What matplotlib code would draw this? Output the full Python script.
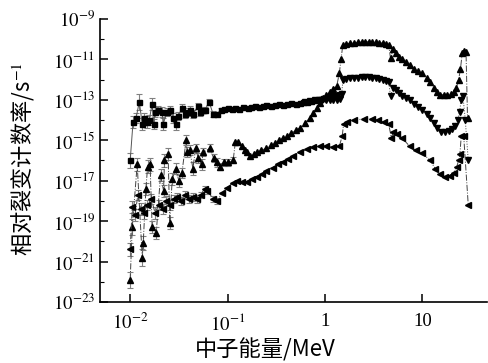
import matplotlib as mpl
import matplotlib.pyplot as plt
import numpy as np
from matplotlib.ticker import FixedLocator, FixedFormatter, NullFormatter

mpl.rcParams.update({
    "font.family": "serif",
    "font.serif": ["Liberation Serif", "DejaVu Serif"],
    "mathtext.fontset": "stix",
    "font.size": 13,
})

# 方块：能量 (MeV)、计数率 (s^-1)、误差 (数量级)
sq_e = [0.0100, 0.0107, 0.0115, 0.0124, 0.0133, 0.0139, 0.0149, 0.0157, 0.0168, 0.0174,
        0.0180, 0.0194, 0.0213, 0.0218, 0.0239, 0.0257, 0.0276, 0.0296, 0.0310, 0.0341,
        0.0366, 0.0390, 0.0412, 0.0442, 0.0498, 0.0521, 0.0560, 0.0587, 0.0645, 0.0709,
        0.0780, 0.0850, 0.092, 0.100, 0.110, 0.120, 0.132, 0.145, 0.160, 0.175,
        0.190, 0.210, 0.230, 0.250, 0.280, 0.310, 0.340, 0.370, 0.410, 0.450,
        0.500, 0.550, 0.600, 0.660, 0.720, 0.800, 0.880, 0.960, 1.05, 1.15,
        1.25, 1.38]
sq_v = [1.00e-16, 7.94e-15, 1.26e-14, 7.94e-14, 6.31e-15, 1.26e-14, 7.94e-15, 1.00e-14, 6.31e-14, 6.31e-15,
        2.51e-14, 3.16e-14, 2.51e-14, 6.31e-15, 2.51e-14, 3.16e-14, 1.26e-14, 6.31e-15, 1.58e-14, 3.98e-14,
        2.00e-14, 2.51e-14, 3.16e-14, 2.00e-14, 5.01e-14, 2.51e-14, 3.16e-14, 3.16e-14, 7.94e-14, 2.00e-14,
        2.00e-14, 3.16e-14, 3.55e-14, 3.98e-14, 3.55e-14, 3.98e-14, 3.55e-14, 4.47e-14, 3.98e-14, 4.47e-14,
        5.01e-14, 4.47e-14, 5.01e-14, 5.62e-14, 5.01e-14, 5.62e-14, 6.31e-14, 5.62e-14, 6.31e-14, 7.08e-14,
        6.31e-14, 7.08e-14, 7.94e-14, 7.94e-14, 8.91e-14, 1.00e-13, 1.12e-13, 1.26e-13, 1.41e-13, 1.58e-13,
        1.78e-13, 2.00e-13]
sq_err = [0.35, 0.3, 0.25, 0.4, 0.3, 0.25, 0.3, 0.25, 0.3, 0.25,
          0.25, 0.2, 0.25, 0.3, 0.2, 0.2, 0.25, 0.3, 0.2, 0.2,
          0.2, 0.2, 0.2, 0.2, 0.15, 0.2, 0.15, 0.15, 0.15, 0.15,
          0.1, 0.1]

# 正三角
up_e = [0.0100, 0.0105, 0.0118, 0.0133, 0.0136, 0.0145, 0.0151, 0.0160, 0.0168, 0.0185,
        0.0205, 0.0220, 0.0225, 0.0245, 0.0255, 0.0270, 0.0296, 0.0315, 0.0340, 0.0375,
        0.0385, 0.0410, 0.0440, 0.0470, 0.0500, 0.0540, 0.0560, 0.0660, 0.0720, 0.0780,
        0.0840, 0.0920, 0.100, 0.114, 0.120, 0.128, 0.140, 0.150, 0.158, 0.170,
        0.185, 0.200, 0.220, 0.250, 0.280, 0.310, 0.340, 0.370, 0.410, 0.450,
        0.500, 0.550, 0.620, 0.700, 0.760, 0.820, 0.880, 0.950, 1.03, 1.12,
        1.22, 1.32, 1.40, 1.46, 1.52, 1.65, 1.80, 2.00, 2.20, 2.40,
        2.60, 2.80, 3.00, 3.30, 3.60, 3.90, 4.20, 4.50, 4.70, 5.00,
        5.30, 5.70, 6.20, 6.70, 7.40, 8.20, 9.00, 10.0, 11.0, 12.0,
        13.0, 14.0, 15.0, 16.5, 18.0, 19.5, 21.0, 22.3, 23.5, 24.5,
        25.6, 27.0, 28.0, 29.0]
up_v = [1.26e-22, 5.01e-20, 6.31e-17, 1.58e-21, 7.94e-21, 3.98e-18, 5.01e-17, 6.31e-17, 5.01e-20, 2.51e-20,
        2.00e-17, 3.16e-18, 1.00e-16, 2.00e-16, 7.94e-20, 1.26e-17, 3.98e-17, 1.00e-17, 2.51e-17, 1.00e-15,
        2.51e-16, 3.16e-16, 3.98e-17, 3.98e-16, 1.26e-16, 6.31e-17, 2.51e-16, 3.98e-16, 1.26e-16, 7.94e-17,
        5.01e-17, 7.94e-17, 7.94e-17, 1.00e-16, 7.94e-16, 7.94e-16, 5.01e-16, 3.16e-16, 2.51e-16, 1.58e-16,
        2.00e-16, 2.51e-16, 3.16e-16, 3.98e-16, 5.62e-16, 7.08e-16, 1.00e-15, 1.26e-15, 1.58e-15, 2.24e-15,
        3.16e-15, 3.98e-15, 7.08e-15, 1.26e-14, 2.24e-14, 3.98e-14, 7.08e-14, 1.26e-13, 1.78e-13, 2.51e-13,
        3.55e-13, 5.01e-13, 2.00e-12, 1.00e-11, 5.01e-11, 5.62e-11, 6.31e-11, 6.61e-11, 7.08e-11, 7.08e-11,
        7.41e-11, 7.41e-11, 7.24e-11, 7.08e-11, 6.61e-11, 6.31e-11, 5.62e-11, 5.01e-11, 1.12e-11, 3.16e-11,
        2.00e-11, 1.26e-11, 1.00e-11, 7.08e-12, 5.01e-12, 3.16e-12, 2.51e-12, 2.00e-12, 1.26e-12, 7.94e-13,
        3.98e-13, 2.51e-13, 1.78e-13, 1.78e-13, 1.78e-13, 2.00e-13, 2.51e-13, 3.98e-13, 1.00e-12, 3.16e-12,
        2.00e-11, 2.51e-11, 2.24e-11, 1.26e-14]
up_err = [0.4, 0.4, 0.3, 0.4, 0.35, 0.3, 0.3, 0.3, 0.3, 0.3,
          0.3, 0.3, 0.3, 0.3, 0.3, 0.3, 0.25, 0.3, 0.25, 0.25,
          0.25, 0.25, 0.3, 0.2, 0.25, 0.25, 0.2, 0.2, 0.2, 0.2,
          0.15, 0.15, 0.15, 0.15]

# 倒三角
dn_e = [0.62, 0.70, 0.78, 0.86, 0.94, 1.03, 1.12, 1.22, 1.32, 1.42,
        1.48, 1.53, 1.65, 1.80, 2.00, 2.20, 2.40, 2.60, 2.80, 3.00,
        3.30, 3.60, 3.90, 4.20, 4.50, 4.70, 5.00, 5.30, 5.70, 6.20,
        6.80, 7.40, 8.20, 9.00, 10.0, 11.0, 12.0, 13.0, 14.0, 15.5,
        17.0, 18.5, 20.0, 21.5, 23.0, 24.0, 25.0, 26.0, 27.5, 29.5]
dn_v = [7.94e-14, 8.91e-14, 1.00e-13, 1.00e-13, 1.00e-13, 1.00e-13, 1.00e-13, 1.00e-13, 1.00e-13, 1.12e-13,
        2.00e-13, 1.00e-12, 1.12e-12, 1.20e-12, 1.26e-12, 1.26e-12, 1.32e-12, 1.32e-12, 1.32e-12, 1.26e-12,
        1.20e-12, 1.12e-12, 1.00e-12, 8.91e-13, 7.94e-13, 1.58e-13, 3.98e-13, 3.16e-13, 2.24e-13, 1.58e-13,
        1.26e-13, 1.00e-13, 6.31e-14, 4.47e-14, 3.16e-14, 2.00e-14, 1.26e-14, 7.08e-15, 3.98e-15, 2.51e-15,
        2.51e-15, 2.82e-15, 3.55e-15, 5.01e-15, 1.00e-14, 2.51e-14, 1.00e-13, 1.58e-13, 1.00e-14, 1.00e-16]

# 左三角
lf_e = [0.0100, 0.0105, 0.0112, 0.0120, 0.0128, 0.0138, 0.0150, 0.0165, 0.0180, 0.0196,
        0.0215, 0.0235, 0.0255, 0.0280, 0.0305, 0.0335, 0.0365, 0.0400, 0.0440, 0.0480,
        0.0530, 0.0580, 0.0620, 0.0710, 0.0780, 0.0880, 0.098, 0.114, 0.125, 0.140,
        0.158, 0.180, 0.200, 0.225, 0.250, 0.290, 0.330, 0.370, 0.420, 0.470,
        0.550, 0.650, 0.750, 0.880, 1.03, 1.20, 1.40, 1.50, 1.55, 1.70,
        2.00, 2.50, 3.00, 3.50, 4.00, 4.50, 4.80, 5.00, 5.50, 6.20,
        7.40, 8.50, 10.0, 12.0, 13.5, 15.0, 17.0, 19.0, 21.0, 22.5,
        23.5, 24.2, 25.0, 26.5, 29.5]
lf_v = [3.98e-21, 5.01e-19, 2.00e-19, 2.00e-18, 3.98e-19, 2.51e-19, 6.31e-19, 1.26e-18, 2.51e-19, 6.31e-19,
        3.98e-19, 1.00e-18, 6.31e-19, 1.26e-18, 1.58e-18, 1.00e-18, 2.00e-18, 1.26e-18, 1.58e-18, 1.26e-18,
        2.00e-18, 3.98e-18, 3.16e-18, 1.26e-18, 1.00e-18, 2.51e-18, 4.47e-18, 7.94e-18, 1.00e-17, 8.91e-18,
        8.91e-18, 1.26e-17, 1.58e-17, 2.24e-17, 3.16e-17, 4.47e-17, 6.31e-17, 7.94e-17, 1.12e-16, 1.58e-16,
        2.51e-16, 3.55e-16, 4.47e-16, 5.01e-16, 5.01e-16, 4.47e-16, 5.01e-16, 1.58e-15, 6.31e-15, 7.94e-15,
        1.00e-14, 1.12e-14, 1.12e-14, 1.00e-14, 7.94e-15, 6.31e-15, 1.26e-15, 2.51e-15, 2.00e-15, 1.26e-15,
        5.01e-16, 3.16e-16, 2.24e-16, 1.00e-16, 3.98e-17, 2.24e-17, 1.58e-17, 1.78e-17, 2.51e-17, 5.01e-17,
        1.00e-16, 2.00e-16, 1.58e-15, 1.58e-15, 6.31e-19]
lf_err = [0.3, 0.3, 0.3, 0.25, 0.3, 0.3, 0.25, 0.25, 0.3, 0.25,
          0.25, 0.25, 0.25, 0.2, 0.2, 0.2, 0.2, 0.2, 0.2, 0.2,
          0.15, 0.15, 0.15, 0.15, 0.15]

xticks = [0.01, 0.1, 1, 10]
xtick_labels = ["$10^{-2}$", "$10^{-1}$", "1", "10"]
ymajor = [1e-23, 1e-21, 1e-19, 1e-17, 1e-15, 1e-13, 1e-11, 1e-9]
ymajor_labels = ["$10^{-23}$", "$10^{-21}$", "$10^{-19}$", "$10^{-17}$",
                 "$10^{-15}$", "$10^{-13}$", "$10^{-11}$", "$10^{-9}$"]
yminor = [1e-22, 1e-20, 1e-18, 1e-16, 1e-14, 1e-12, 1e-10]


def log_err(v, err):
    # 误差以数量级给出，换算成上下误差
    v = np.asarray(v[:len(err)])
    f = 10.0 ** np.asarray(err)
    return [v - v / f, v * f - v]


fig = plt.figure(figsize=(4.89, 3.63), dpi=100)
ax = fig.add_axes([0.2045, 0.168, 0.7915, 0.78])

# 误差棒（低能段）
for e, v, err in [(sq_e, sq_v, sq_err), (up_e, up_v, up_err), (lf_e, lf_v, lf_err)]:
    ax.errorbar(e[:len(err)], v[:len(err)], yerr=log_err(v, err), fmt="none",
                ecolor="#808080", elinewidth=0.8, capsize=2.5, capthick=0.8, zorder=2)

ax.plot(sq_e, sq_v, color="#555555", lw=0.7, ls="-", marker="s", ms=3.6,
        mfc="black", mec="black", zorder=3)
ax.plot(up_e, up_v, color="#444444", lw=0.7, ls="-.", marker="^", ms=4.4,
        mfc="black", mec="black", zorder=3)
ax.plot(dn_e, dn_v, color="#444444", lw=0.7, ls=":", marker="v", ms=4.4,
        mfc="black", mec="black", zorder=3)
ax.plot(lf_e, lf_v, color="#444444", lw=0.7, ls="-.", marker="<", ms=4.4,
        mfc="black", mec="black", zorder=3)

ax.set_xscale("log")
ax.set_yscale("log")
ax.set_xlim(0.0049, 46)
ax.set_ylim(1e-23, 1e-9)

ax.xaxis.set_major_locator(FixedLocator(xticks))
ax.xaxis.set_major_formatter(FixedFormatter(xtick_labels))
ax.xaxis.set_minor_locator(FixedLocator([]))
ax.xaxis.set_minor_formatter(NullFormatter())
ax.yaxis.set_major_locator(FixedLocator(ymajor))
ax.yaxis.set_major_formatter(FixedFormatter(ymajor_labels))
ax.yaxis.set_minor_locator(FixedLocator(yminor))
ax.yaxis.set_minor_formatter(NullFormatter())

ax.spines["top"].set_visible(False)
ax.spines["right"].set_visible(False)
ax.spines["left"].set_linewidth(1.2)
ax.spines["bottom"].set_linewidth(1.2)
ax.tick_params(which="major", direction="in", length=6, width=1.1, labelsize=13.5)
ax.tick_params(which="minor", direction="in", length=3, width=0.8)
ax.tick_params(axis="x", pad=8)

cjk = ["Noto Sans CJK SC", "DejaVu Sans"]
ax.set_xlabel("中子能量/MeV", family=cjk, fontsize=16, va="center")
ax.xaxis.set_label_coords(0.426, -0.17)
ax.set_ylabel("相对裂变计数率/s$^{-1}$", family=cjk, fontsize=16, va="center")
ax.yaxis.set_label_coords(-0.20, 0.505)

fig.savefig("out.png", dpi=100)
